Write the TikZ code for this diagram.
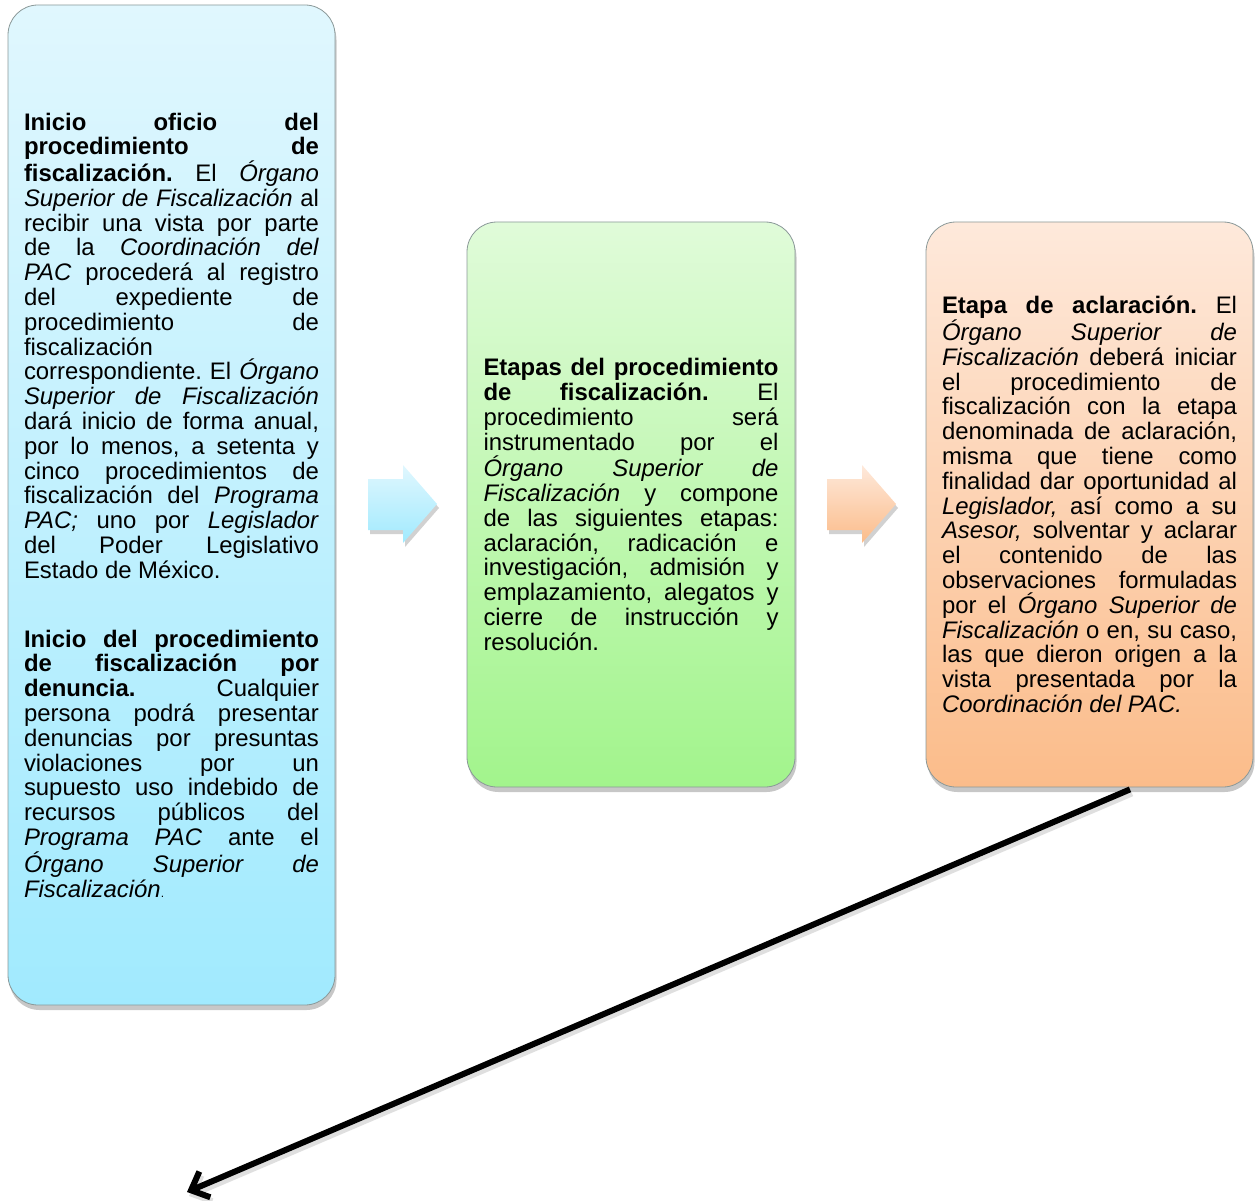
\documentclass[tikz,border=0pt]{standalone}
\usepackage{fontspec}
\setmainfont{Liberation Sans}
\usetikzlibrary{shadows,arrows.meta,calc}
\definecolor{bluetop}{HTML}{E0F7FE}
\definecolor{bluebot}{HTML}{A1EAFE}
\definecolor{greentop}{HTML}{E0FBD9}
\definecolor{greenbot}{HTML}{A2F48C}
\definecolor{orangetop}{HTML}{FEE9DB}
\definecolor{orangebot}{HTML}{FBBC8A}
\definecolor{edgegray}{HTML}{8A9898}
\hbadness=10000
\hyphenpenalty=10000
\exhyphenpenalty=10000
\frenchspacing
\tikzset{
  stagebox/.style={draw=edgegray, line width=0.8pt, rounded corners=30pt,
    minimum width=327pt, text width=295pt, align=justify, inner sep=0pt,
    font=\fontsize{23.9}{24.8}\selectfont,
    execute at begin node={\setlength\parindent{0pt}\frenchspacing},
    drop shadow={shadow xshift=1.5pt, shadow yshift=-5pt, opacity=0.22, fill=black}},
  blockarrow/.style={draw=none,
    drop shadow={shadow xshift=2pt, shadow yshift=-4pt, opacity=0.18, fill=black}},
  linkarrow/.style={line width=6pt, -{Straight Barb[length=15pt,width=28pt]}},
}
\begin{document}
\begin{tikzpicture}[x=1pt,y=-1pt]
\useasboundingbox (0,0) rectangle (1256,1201);

\node[stagebox, minimum height=1000pt, top color=bluetop, bottom color=bluebot] (left) at (171.5,505) {%
\textbf{Inicio oficio del}\linebreak
\textbf{procedimiento de}\linebreak
\textbf{fiscalización.} El \textit{Órgano}\linebreak
\textit{Superior de Fiscalización} al\linebreak
recibir una vista por parte\linebreak
de la \textit{Coordinación del}\linebreak
\textit{PAC} procederá al registro\linebreak
del expediente de\linebreak
procedimiento de\linebreak
fiscalización\linebreak
correspondiente. El \textit{Órgano}\linebreak
\textit{Superior de Fiscalización}\linebreak
dará inicio de forma anual,\linebreak
por lo menos, a setenta y\linebreak
cinco procedimientos de\linebreak
fiscalización del \textit{Programa}\linebreak
\textit{PAC;} uno por \textit{Legislador}\linebreak
del Poder Legislativo\linebreak
Estado de México.\par\vspace{44pt}
\textbf{Inicio del procedimiento}\linebreak
\textbf{de fiscalización por}\linebreak
\textbf{denuncia.} Cualquier\linebreak
persona podrá presentar\linebreak
denuncias por presuntas\linebreak
violaciones por un\linebreak
supuesto uso indebido de\linebreak
recursos públicos del\linebreak
\textit{Programa PAC} ante el\linebreak
\textit{Órgano Superior de}\linebreak
\textit{Fiscalización}{\fontsize{12}{14}\selectfont.}};

\node[stagebox, minimum height=565pt, minimum width=328pt, top color=greentop, bottom color=greenbot] (mid) at (631,504.5) {%
\textbf{Etapas del procedimiento}\linebreak
\textbf{de fiscalización.} El\linebreak
procedimiento será\linebreak
instrumentado por el\linebreak
\textit{Órgano Superior de}\linebreak
\textit{Fiscalización} y compone\linebreak
de las siguientes etapas:\linebreak
aclaración, radicación e\linebreak
investigación, admisión y\linebreak
emplazamiento, alegatos y\linebreak
cierre de instrucción y\linebreak
resolución.};

\node[stagebox, minimum height=565pt, top color=orangetop, bottom color=orangebot] (right) at (1089.5,504.5) {%
\textbf{Etapa de aclaración.} El\linebreak
\textit{Órgano Superior de}\linebreak
\textit{Fiscalización} deberá iniciar\linebreak
el procedimiento de\linebreak
fiscalización con la etapa\linebreak
denominada de aclaración,\linebreak
misma que tiene como\linebreak
finalidad dar oportunidad al\linebreak
\textit{Legislador,} así como a su\linebreak
\textit{Asesor,} solventar y aclarar\linebreak
el contenido de las\linebreak
observaciones formuladas\linebreak
por el \textit{Órgano Superior de}\linebreak
\textit{Fiscalización} o en, su caso,\linebreak
las que dieron origen a la\linebreak
vista presentada por la\linebreak
\textit{Coordinación del PAC.}};

% block arrows between boxes
\path[blockarrow, top color=bluetop, bottom color=bluebot]
  (368,479) -- (403,479) -- (403,465) -- (437,504) -- (403,543) -- (403,530) -- (368,530) -- cycle;
\path[blockarrow, top color=orangetop, bottom color=orangebot]
  (827,479) -- (862,479) -- (862,465) -- (896,504) -- (862,543) -- (862,530) -- (827,530) -- cycle;

% long connector
\coordinate (astart) at ($(right.south)+(40.5,2)$);
\coordinate (aend) at (187,1192);
\draw[linkarrow, black!25, opacity=0.5] ($(astart)+(2,4)$) -- ($(aend)+(2,4)$);
\draw[linkarrow] (astart) -- (aend);
\end{tikzpicture}
\end{document}
